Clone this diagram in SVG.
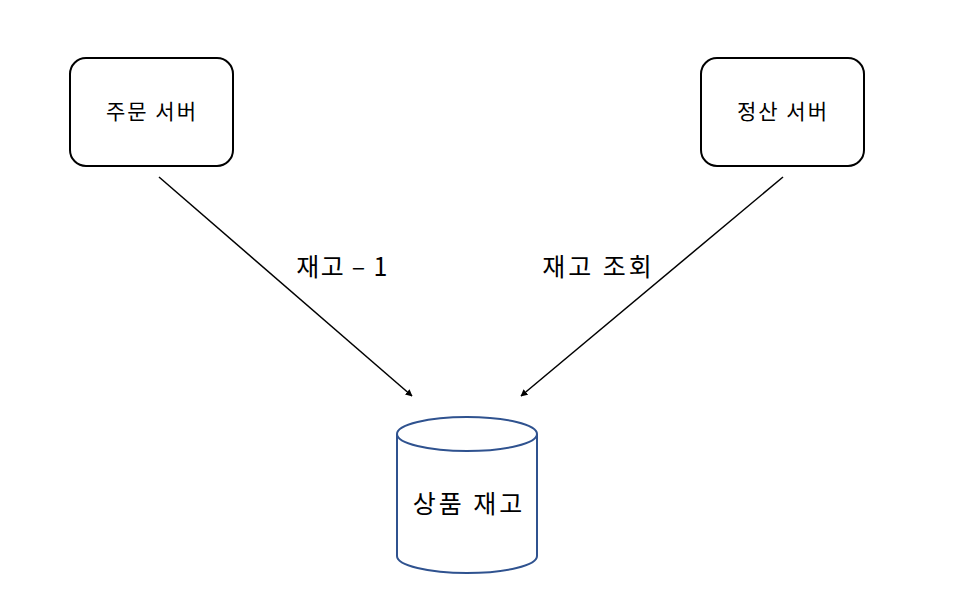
<svg xmlns="http://www.w3.org/2000/svg" width="958" height="608" viewBox="0 0 958 608">
<style>
.box{fill:#fff;stroke:#000;stroke-width:2}
.cyl{fill:#fff;stroke:#2F528F;stroke-width:2}
.t{font-family:"Noto Sans CJK KR","Noto Sans",sans-serif;fill:#000;text-anchor:middle}
.s{font-size:21px;letter-spacing:2px}
.l{font-size:25px;letter-spacing:3px}
.edge{stroke:#000;stroke-width:1.5;fill:none;marker-end:url(#ah)}
</style>
<defs>
<marker id="ah" viewBox="0 0 10 10" refX="9" refY="5" markerWidth="7" markerHeight="7" markerUnits="userSpaceOnUse" orient="auto"><path d="M0,0 L10,5 L0,10 z" fill="#000"/></marker>
</defs>
<rect width="958" height="608" fill="#fff"/>
<g id="order-server">
<rect class="box" x="70" y="58" width="163" height="108" rx="16"/>
<text class="t s" x="152" y="119">주문 서버</text>
</g>
<g id="settle-server">
<rect class="box" x="701" y="58" width="163" height="108" rx="16"/>
<text class="t s" x="783" y="119">정산 서버</text>
</g>
<g id="stock">
<path class="cyl" d="M397,434 L397,556 A70,17 0 0 0 537,556 L537,434"/>
<ellipse class="cyl" cx="467" cy="434" rx="70" ry="17"/>
<text class="t l" x="469" y="513">상품 재고</text>
</g>
<g id="connectors">
<line class="edge" x1="159" y1="177" x2="412" y2="396"/>
<text class="t l" x="342.5" y="276" style="letter-spacing:1.3px">재고 – 1</text>
<line class="edge" x1="783" y1="177" x2="521" y2="396"/>
<text class="t l" x="598.5" y="276">재고 조회</text>
</g>
</svg>
